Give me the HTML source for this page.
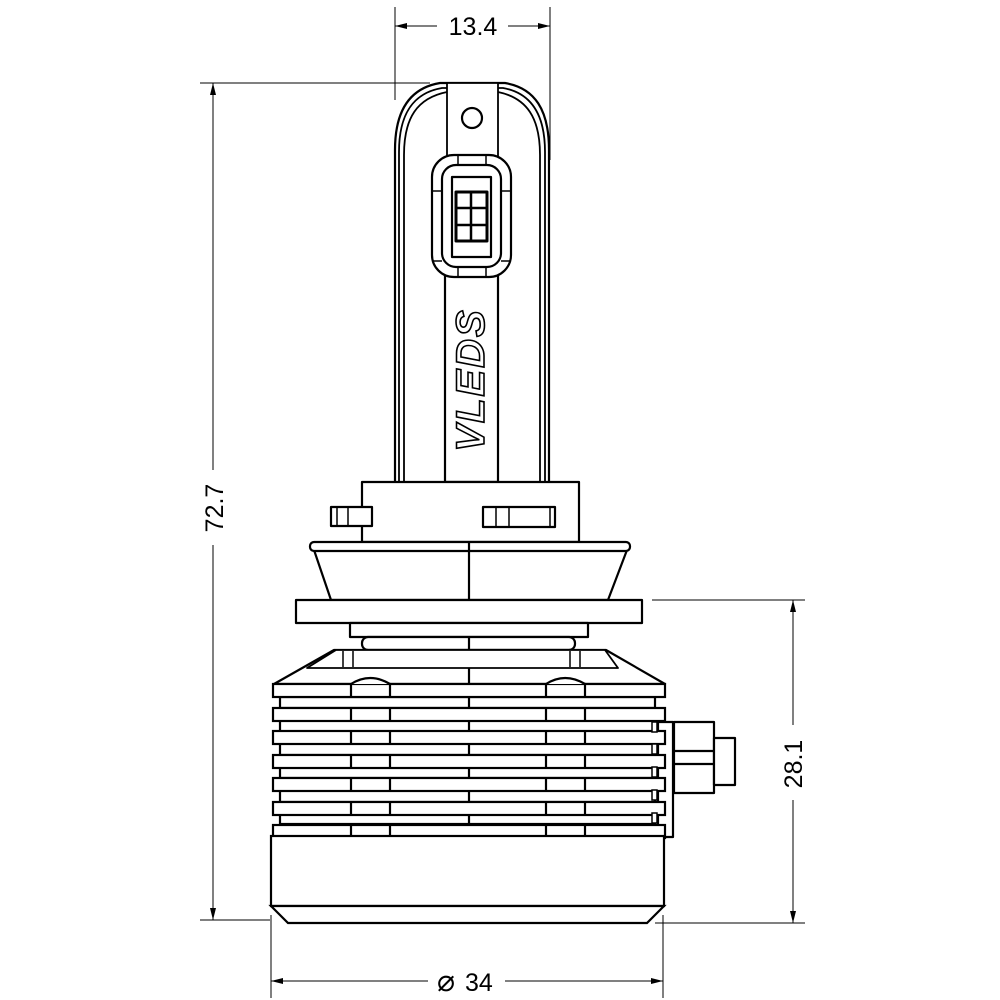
<!DOCTYPE html>
<html><head><meta charset="utf-8"><style>
html,body{margin:0;padding:0;background:#fff;}
svg{display:block;}
text{font-family:"Liberation Sans",sans-serif;}
</style></head><body>
<svg width="1000" height="1000" viewBox="0 0 1000 1000" xmlns="http://www.w3.org/2000/svg">
<defs>
<marker id="a" viewBox="0 0 12 6" refX="12" refY="3" markerWidth="12" markerHeight="6" orient="auto-start-reverse" markerUnits="userSpaceOnUse"><path d="M0,0 L12,3 L0,6 Z" fill="#000"/></marker>
</defs>
<g stroke="#000" stroke-width="1" fill="none">
<line x1="395" y1="7" x2="395" y2="100"/>
<line x1="550" y1="7" x2="550" y2="160"/>
<line x1="395" y1="26" x2="437" y2="26" marker-start="url(#a)"/>
<line x1="508" y1="26" x2="550" y2="26" marker-end="url(#a)"/>
<line x1="200" y1="83" x2="430" y2="83"/>
<line x1="200" y1="920" x2="270" y2="920"/>
<line x1="213" y1="83" x2="213" y2="470" marker-start="url(#a)"/>
<line x1="213" y1="545" x2="213" y2="920" marker-end="url(#a)"/>
<line x1="652" y1="600" x2="805" y2="600"/>
<line x1="655" y1="923" x2="805" y2="923"/>
<line x1="793" y1="600" x2="793" y2="725" marker-start="url(#a)"/>
<line x1="793" y1="800" x2="793" y2="923" marker-end="url(#a)"/>
<line x1="271" y1="915" x2="271" y2="998"/>
<line x1="663" y1="915" x2="663" y2="998"/>
<line x1="271" y1="981" x2="428" y2="981" marker-start="url(#a)"/>
<line x1="505" y1="981" x2="663" y2="981" marker-end="url(#a)"/>
</g>
<g font-size="25" fill="#000">
<text x="473" y="35" text-anchor="middle">13.4</text>
<text transform="translate(223,508) rotate(-90)" text-anchor="middle">72.7</text>
<text transform="translate(802,764) rotate(-90)" text-anchor="middle">28.1</text>
<text x="437" y="991" font-size="30">⌀</text>
<text x="465" y="991">34</text>
</g>
<g stroke="#000" stroke-width="2.2" fill="#fff" stroke-linejoin="round">
<path d="M395,482 V150 C395,110 410,88 440,83 H505 C535,88 549,110 549,150 V482"/>
<path d="M399,482 V152 C399,114 413,93 442,88 H503 C531,93 545,114 545,152 V482" stroke-width="1.8"/>
<path d="M404,482 V155 C404,118 417,98 447,92 H498 C527,98 540,118 540,155 V482" stroke-width="1.8"/>
<rect x="447" y="83" width="51" height="80" stroke-width="1.8"/>
<circle cx="472" cy="118" r="10"/>
<rect x="445" y="270" width="53" height="212"/>
<rect x="432" y="155" width="79" height="122" rx="22"/>
<rect x="442" y="165" width="59" height="102" rx="14"/>
<rect x="452" y="177" width="39" height="80"/>
<rect x="456" y="192" width="31" height="49" stroke-width="3"/>
<line x1="471" y1="192" x2="471" y2="241" stroke-width="2.5"/>
<line x1="456" y1="208" x2="487" y2="208" stroke-width="2.5"/>
<line x1="456" y1="225" x2="487" y2="225" stroke-width="2.5"/>
<line x1="458" y1="155" x2="458" y2="165" stroke-width="1.5"/><line x1="486" y1="155" x2="486" y2="165" stroke-width="1.5"/>
<line x1="458" y1="267" x2="458" y2="277" stroke-width="1.5"/><line x1="486" y1="267" x2="486" y2="277" stroke-width="1.5"/>
<line x1="432" y1="191" x2="442" y2="191" stroke-width="1.5"/><line x1="501" y1="191" x2="511" y2="191" stroke-width="1.5"/>
<line x1="432" y1="261" x2="442" y2="261" stroke-width="1.5"/><line x1="501" y1="261" x2="511" y2="261" stroke-width="1.5"/>
</g>
<text transform="translate(484,380) rotate(-90)" text-anchor="middle" font-size="40" font-style="italic" font-weight="bold" fill="#fff" stroke="#000" stroke-width="1.6" style="font-family:'Liberation Sans',sans-serif;letter-spacing:2px">VLEDS</text>
<g stroke="#000" stroke-width="2.2" fill="#fff" stroke-linejoin="round">
<rect x="362" y="482" width="217" height="60"/>
<rect x="331" y="507" width="41" height="19"/>
<line x1="337" y1="507" x2="337" y2="526" stroke-width="1.5"/><line x1="348" y1="507" x2="348" y2="526" stroke-width="1.5"/>
<rect x="483" y="507" width="72" height="20"/>
<line x1="496" y1="507" x2="496" y2="527" stroke-width="1.5"/><line x1="509" y1="507" x2="509" y2="527" stroke-width="1.5"/><line x1="550" y1="507" x2="550" y2="527" stroke-width="1.5"/>
<path d="M314,550 L331,600 H608 L627,550 Z"/>
<rect x="310" y="542" width="320" height="9" rx="4"/>
<line x1="469" y1="542" x2="469" y2="600"/>
<rect x="296" y="600" width="346" height="23"/>
<rect x="350" y="623" width="238" height="14"/>
<rect x="362" y="637" width="213" height="13" rx="6"/>
<line x1="469" y1="637" x2="469" y2="650"/>
<path d="M334,650 H606 L665,684 H274 Z"/>
<path d="M307,668 L336,650 H605 L618,668 Z" stroke-width="1.8"/>
<line x1="343" y1="651" x2="343" y2="667" stroke-width="1.5"/><line x1="353" y1="651" x2="353" y2="667" stroke-width="1.5"/>
<line x1="570" y1="651" x2="570" y2="667" stroke-width="1.5"/><line x1="580" y1="651" x2="580" y2="667" stroke-width="1.5"/>
<line x1="469" y1="668" x2="469" y2="684"/>
<rect x="658" y="722" width="15" height="115"/>
<rect x="674" y="722" width="40" height="71"/>
<rect x="714" y="738" width="21" height="47"/>
<line x1="674" y1="751" x2="714" y2="751"/><line x1="674" y1="764" x2="714" y2="764"/>
</g>
<g stroke="#000" stroke-width="2.2" fill="#fff">
<rect x="280" y="697" width="375" height="11"/><line x1="469" y1="697" x2="469" y2="708"/>
<rect x="280" y="720" width="375" height="12"/><line x1="469" y1="720" x2="469" y2="732"/>
<rect x="280" y="743" width="375" height="12"/><line x1="469" y1="743" x2="469" y2="755"/>
<rect x="280" y="766" width="375" height="12"/><line x1="469" y1="766" x2="469" y2="778"/>
<rect x="280" y="789" width="375" height="13"/><line x1="469" y1="789" x2="469" y2="802"/>
<rect x="280" y="813" width="375" height="11"/><line x1="469" y1="813" x2="469" y2="824"/>
<g id="w">
<rect x="273" y="684" width="392" height="13"/>
<line x1="351" y1="684" x2="351" y2="697"/><line x1="390" y1="684" x2="390" y2="697"/>
<line x1="546" y1="684" x2="546" y2="697"/><line x1="585" y1="684" x2="585" y2="697"/>
</g>
<use href="#w" y="24"/>
<use href="#w" y="47"/>
<use href="#w" y="71"/>
<use href="#w" y="94"/>
<use href="#w" y="118"/>
<use href="#w" y="141"/>
<path d="M351,684 Q370,672 390,684 M546,684 Q565,672 585,684" fill="#fff"/>
<g stroke-width="1.5">
<rect x="652" y="722" width="5" height="10"/><rect x="652" y="744" width="5" height="10"/><rect x="652" y="767" width="5" height="10"/><rect x="652" y="790" width="5" height="10"/><rect x="652" y="813" width="5" height="10"/>
</g>
<rect x="271" y="836" width="393" height="70"/>
<path d="M271,906 L288,923 H647 L664,906 Z"/>
</g>
</svg>
</body></html>
